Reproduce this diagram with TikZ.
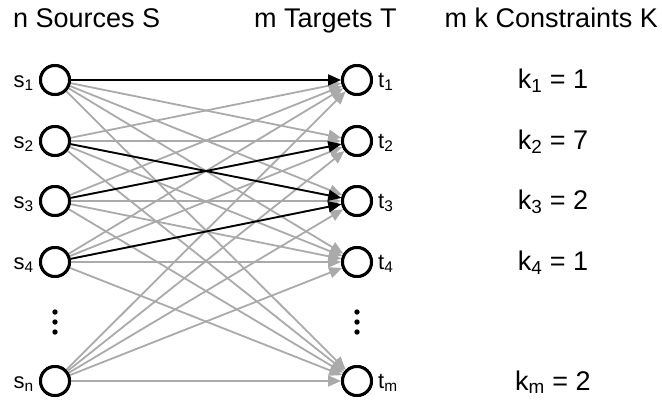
\documentclass[tikz,border=0pt]{standalone}
\usepackage{fontspec}
\setmainfont{Liberation Sans}
\usetikzlibrary{arrows.meta}
\definecolor{edgegray}{RGB}{170,170,170}
\begin{document}
\begin{tikzpicture}[x=1bp,y=-1bp,
  vtx/.style={circle,draw=black,fill=white,line width=3bp,minimum size=29bp,inner sep=0pt},
  gedge/.style={draw=edgegray,line width=1.8bp,-{Triangle[length=13bp,width=11bp,fill=edgegray]}},
  bedge/.style={draw=black,line width=1.8bp,-{Triangle[length=13bp,width=11bp,fill=black]}},
  head/.style={anchor=base west,inner sep=0pt,font=\fontsize{27bp}{32bp}\selectfont},
  lab/.style={inner sep=0pt,font=\fontsize{22bp}{26bp}\selectfont},
  klab/.style={anchor=base,inner sep=0pt,font=\fontsize{27bp}{32bp}\selectfont},
  dot/.style={fill=black}]
\useasboundingbox (0,0) rectangle (662,401);
% headers
\node[head] (h1) at (13,27) {n Sources S};
\node[head] (h2) at (254,27) {m Targets T};
\node[head,anchor=base east] (h3) at (658,27) {m k Constraints K};
% nodes
\foreach \n/\y/\s in {1/80/1,2/141/2,3/201/3,4/262/4,n/381/n} {
  \node[vtx] (s\n) at (55,\y) {};
  \node[lab,anchor=base east] (ls\n) at (34,\y+7) {s\textsubscript{\s}};
}
\foreach \n/\y/\s in {1/80/1,2/141/2,3/201/3,4/262/4,m/381/m} {
  \node[vtx] (t\n) at (357,\y) {};
  \node[lab,anchor=base west] (lt\n) at (378,\y+7) {t\textsubscript{\s}};
}
% edges
\foreach \i in {1,2,3,4,n} {
  \foreach \j in {1,2,3,4,m} {
    \draw[gedge] (s\i) -- (t\j);
  }
}
\draw[bedge] (s1) -- (t1);
\draw[bedge] (s2) -- (t3);
\draw[bedge] (s3) -- (t2);
\draw[bedge] (s4) -- (t3);
% redraw nodes on top
\foreach \n/\y in {1/80,2/141,3/201,4/262,n/381} {
  \node[vtx] at (55,\y) {};
}
\foreach \n/\y in {1/80,2/141,3/201,4/262,m/381} {
  \node[vtx] at (357,\y) {};
}
% dots
\foreach \x in {55,357} {
  \fill[dot] (\x,312) circle (2.7bp);
  \fill[dot] (\x,322) circle (2.7bp);
  \fill[dot] (\x,332) circle (2.7bp);
}
% constraints
\node[klab] (k1) at (553,88) {k\textsubscript{1} = 1};
\node[klab] (k2) at (553,149) {k\textsubscript{2} = 7};
\node[klab] (k3) at (553,209) {k\textsubscript{3} = 2};
\node[klab] (k4) at (553,270) {k\textsubscript{4} = 1};
\node[klab] (km) at (553,390) {k\textsubscript{m} = 2};
\end{tikzpicture}
\end{document}
